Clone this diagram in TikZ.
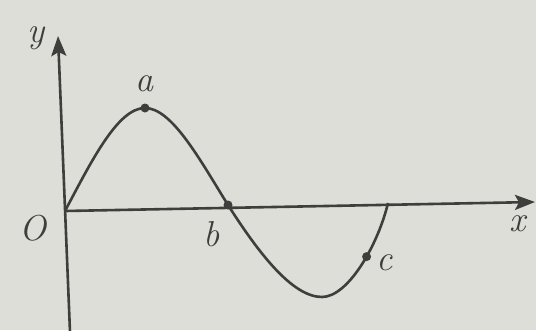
\documentclass[tikz,border=0pt]{standalone}
\usetikzlibrary{arrows.meta}
\definecolor{bg}{RGB}{222,222,216}
\definecolor{ink}{RGB}{62,62,60}
\begin{document}
\begin{tikzpicture}[x=1pt,y=-1pt,
  axis/.style={ink,line width=2.6pt,-{Stealth[length=20pt,width=15pt,inset=4pt]}},
  wave/.style={ink,line width=2.6pt},
  dotpt/.style={circle,fill=ink,inner sep=0pt,minimum size=9pt},
  lbl/.style={ink,font=\fontsize{36}{40}\selectfont\itshape}]
\fill[bg] (0,0) rectangle (536,330);
\useasboundingbox (0,0) rectangle (536,330);
\coordinate (O) at (65,211);
\coordinate (ybot) at (70,332);
\coordinate (ytop) at (58,36);
\coordinate (xend) at (535,202);
\coordinate (m) at (322,297);
\coordinate (e) at (388,203);
\draw[axis] (ybot) -- (ytop);
\draw[axis] (O) -- (xend);
\node[dotpt] (a) at (145,108) {};
\node[dotpt] (b) at (228,205) {};
\draw[wave] (O) .. controls (92,160) and (118,108) .. (a.center)
  .. controls (172,108) and (200,160) .. (b.center)
  .. controls (258,252) and (292,297) .. (m);
\draw[wave] (m) .. controls (348,297) and (378,245) .. node[pos=0.58,dotpt] (c) {} (e);
\node[lbl] (ly) at (36,38) {y};
\node[lbl] (la) at (144,84) {a};
\node[lbl] (lO) at (33,228) {O};
\node[lbl] (lb) at (212,234) {b};
\node[lbl] (lx) at (518,224) {x};
\node[lbl] (lc) at (385,263) {c};
\end{tikzpicture}
\end{document}
